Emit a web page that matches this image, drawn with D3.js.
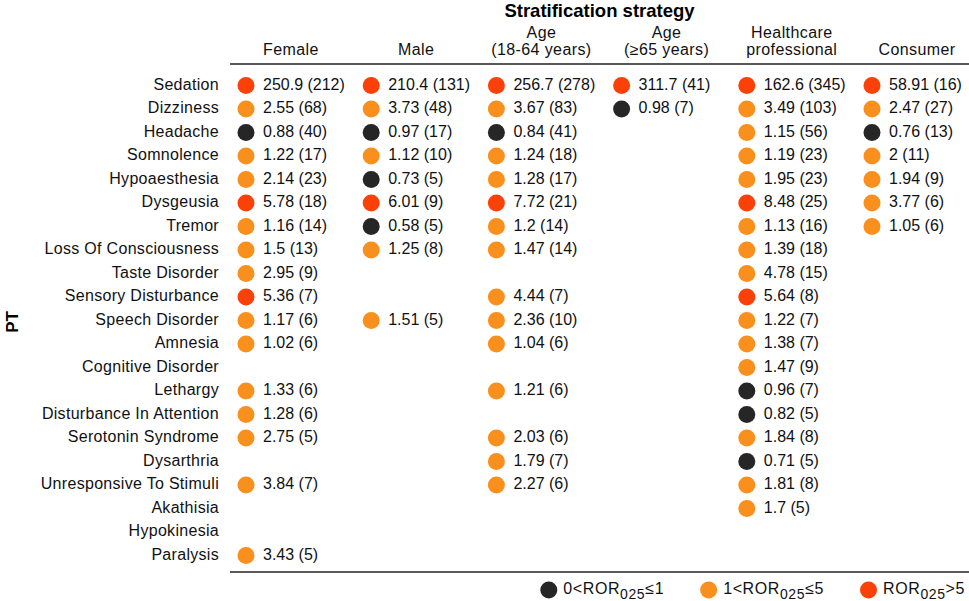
<!DOCTYPE html>
<html>
<head>
<meta charset="utf-8">
<script src="https://cdn.jsdelivr.net/npm/d3@7"></script>
<style>
  body { margin: 0; background: #fff; }
  svg { font-family: "Liberation Sans", Arial, sans-serif; }
</style>
</head>
<body>
<div id="chart"></div>
<script>
// PT rows, top to bottom
const pts = ["Sedation", "Dizziness", "Headache", "Somnolence", "Hypoaesthesia", "Dysgeusia",
    "Tremor", "Loss Of Consciousness", "Taste Disorder", "Sensory Disturbance", "Speech Disorder",
    "Amnesia", "Cognitive Disorder", "Lethargy", "Disturbance In Attention", "Serotonin Syndrome",
    "Dysarthria", "Unresponsive To Stimuli", "Akathisia", "Hypokinesia", "Paralysis"];

const strata = ["Female", "Male", "Age|(18-64 years)", "Age|(\u226565 years)", "Healthcare|professional", "Consumer"];

// ROR025 values and case counts per stratum (null = no signal)
const femaleROR = [250.9, 2.55, 0.88, 1.22, 2.14, 5.78, 1.16, 1.5, 2.95, 5.36, 1.17, 1.02, null, 1.33, 1.28, 2.75, null, 3.84, null, null, 3.43];
const femaleN   = [212, 68, 40, 17, 23, 18, 14, 13, 9, 7, 6, 6, null, 6, 6, 5, null, 7, null, null, 5];
const maleROR   = [210.4, 3.73, 0.97, 1.12, 0.73, 6.01, 0.58, 1.25, null, null, 1.51, null, null, null, null, null, null, null, null, null, null];
const maleN     = [131, 48, 17, 10, 5, 9, 5, 8, null, null, 5, null, null, null, null, null, null, null, null, null, null];
const adultROR  = [256.7, 3.67, 0.84, 1.24, 1.28, 7.72, 1.2, 1.47, null, 4.44, 2.36, 1.04, null, 1.21, null, 2.03, 1.79, 2.27, null, null, null];
const adultN    = [278, 83, 41, 18, 17, 21, 14, 14, null, 7, 10, 6, null, 6, null, 6, 7, 6, null, null, null];
const elderROR  = [311.7, 0.98, null, null, null, null, null, null, null, null, null, null, null, null, null, null, null, null, null, null, null];
const elderN    = [41, 7, null, null, null, null, null, null, null, null, null, null, null, null, null, null, null, null, null, null, null];
const hcpROR    = [162.6, 3.49, 1.15, 1.19, 1.95, 8.48, 1.13, 1.39, 4.78, 5.64, 1.22, 1.38, 1.47, 0.96, 0.82, 1.84, 0.71, 1.81, 1.7, null, null];
const hcpN      = [345, 103, 56, 23, 23, 25, 16, 18, 15, 8, 7, 7, 9, 7, 5, 8, 5, 8, 5, null, null];
const consROR   = [58.91, 2.47, 0.76, 2, 1.94, 3.77, 1.05, null, null, null, null, null, null, null, null, null, null, null, null, null, null];
const consN     = [16, 27, 13, 11, 9, 6, 6, null, null, null, null, null, null, null, null, null, null, null, null, null, null];

const legendLabels = [["0<ROR", "025", "\u22641"], ["1<ROR", "025", "\u22645"], ["ROR", "025", ">5"]];

const rorCols = [femaleROR, maleROR, adultROR, elderROR, hcpROR, consROR];
const nCols = [femaleN, maleN, adultN, elderN, hcpN, consN];

const cells = [];
strata.forEach((s, j) => {
    pts.forEach((p, i) => {
        if (rorCols[j][i] != null) cells.push({ stratum: s, pt: p, ror: rorCols[j][i], n: nCols[j][i] });
    });
});

const W = 969, H = 601;
const tableLeft = 230, tableRight = 969;

const svg = d3.select("#chart").append("svg")
    .attr("width", W).attr("height", H);

const x = d3.scalePoint().domain(strata).range([246, 872]);
const y = d3.scalePoint().domain(pts).range([84, 554]);

// <=1 black, (1,5] orange, >5 red
const color = d3.scaleThreshold()
    .domain([1.0000001, 5.0000001])
    .range(["#262626", "#F98F1D", "#FB4008"]);

// title
svg.append("text")
    .attr("x", (tableLeft + tableRight) / 2).attr("y", 17)
    .attr("text-anchor", "middle")
    .attr("font-size", 18.5).attr("font-weight", "bold")
    .text("Stratification strategy");

// column headers
strata.forEach(s => {
    const lines = s.split("|");
    const t = svg.append("text")
        .attr("text-anchor", "middle")
        .attr("font-size", 16)
        .attr("letter-spacing", 0.4)
        .attr("fill", "#111");
    lines.forEach((l, k) => {
        t.append("tspan")
            .attr("x", x(s) + 45)
            .attr("y", 55 - (lines.length - 1 - k) * 17.5)
            .text(l);
    });
});

// rules
svg.append("line").attr("x1", tableLeft).attr("x2", tableRight).attr("y1", 64).attr("y2", 64)
    .attr("stroke", "#222").attr("stroke-width", 1.6);
svg.append("line").attr("x1", tableLeft).attr("x2", tableRight).attr("y1", 572).attr("y2", 572)
    .attr("stroke", "#222").attr("stroke-width", 1.6);

// row labels
svg.append("g").selectAll("text")
    .data(pts).enter().append("text")
    .attr("x", 219).attr("y", d => y(d))
    .attr("dy", "0.36em")
    .attr("text-anchor", "end")
    .attr("font-size", 16).attr("letter-spacing", 0.3).attr("fill", "#111")
    .text(d => d);

// PT axis title
svg.append("text")
    .attr("transform", "translate(18,322) rotate(-90)")
    .attr("text-anchor", "middle")
    .attr("font-size", 17).attr("font-weight", "bold")
    .text("PT");

// cells
const g = svg.append("g");
g.selectAll("circle")
    .data(cells).enter().append("circle")
    .attr("cx", d => x(d.stratum))
    .attr("cy", d => y(d.pt) + 1.5)
    .attr("r", 8.5)
    .attr("fill", d => color(d.ror));

g.selectAll("text")
    .data(cells).enter().append("text")
    .attr("x", d => x(d.stratum) + 17)
    .attr("y", d => y(d.pt))
    .attr("dy", "0.36em")
    .attr("font-size", 16).attr("fill", "#111")
    .text(d => `${d.ror} (${d.n})`);

// legend, laid out right to left from the table edge
const legend = svg.append("g");
let right = 965;
const legendColors = color.range();
for (let k = legendLabels.length - 1; k >= 0; k--) {
    const lab = legendLabels[k];
    const t = legend.append("text")
        .attr("y", 588).attr("dy", "0.36em")
        .attr("font-size", 16).attr("letter-spacing", 0.6).attr("fill", "#111");
    t.append("tspan").text(lab[0]);
    t.append("tspan").attr("font-size", 14).attr("dy", "5").text(lab[1]);
    t.append("tspan").attr("dy", "-5").text(lab[2]);
    const w = t.node().getComputedTextLength();
    t.attr("x", right - w);
    legend.append("circle")
        .attr("cx", right - w - 14.5)
        .attr("cy", 590)
        .attr("r", 8.5)
        .attr("fill", legendColors[k]);
    right = right - w - 14.5 - 8.5 - 36;
}
</script>
</body>
</html>
